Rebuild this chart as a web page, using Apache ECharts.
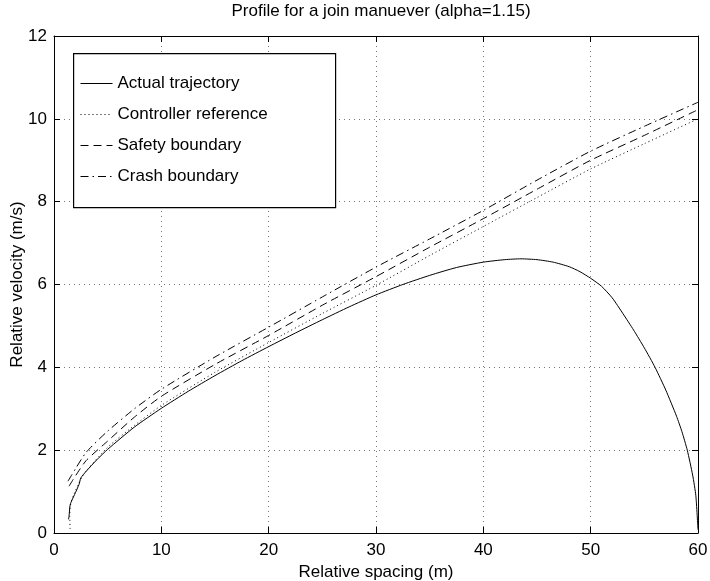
<!DOCTYPE html>
<html>
<head>
<meta charset="utf-8">
<script src="https://cdn.jsdelivr.net/npm/echarts@6/dist/echarts.min.js"></script>
<style>html,body{margin:0;padding:0;background:#fff}#c{width:710px;height:581px}</style>
</head>
<body>
<div id="c"></div>
<script>
// ---- data ----
const xTicks = [0, 10, 20, 30, 40, 50, 60];
const yTicks = [0, 2, 4, 6, 8, 10, 12];

const trajX = [1.35, 1.4, 1.49, 1.6, 1.92, 2.33, 2.5, 3, 4, 5, 7.5, 10, 12.5, 15, 17.5, 20, 22.5, 25, 27.5, 30, 32.5, 35, 37.5, 40, 42, 43.5, 45, 46.5, 48, 49, 50, 51, 52, 53, 54, 55, 56, 57, 58, 58.5, 59, 59.5, 59.8, 60];
const trajY = [0.33, 0.4, 0.66, 0.75, 0.93, 1.17, 1.33, 1.49, 1.77, 2.02, 2.56, 3.01, 3.42, 3.8, 4.16, 4.5, 4.83, 5.15, 5.46, 5.75, 6.0, 6.22, 6.41, 6.54, 6.6, 6.62, 6.6, 6.54, 6.43, 6.31, 6.15, 5.96, 5.68, 5.3, 4.9, 4.47, 4.0, 3.45, 2.82, 2.45, 2.0, 1.4, 0.9, 0.08];

const refX = [1.5, 1.47, 1.5, 1.65, 2.0, 2.5, 3, 5, 7.5, 10, 15, 20, 25, 30, 35, 40, 45, 50, 55, 60];
const refY = [0.1, 0.4, 0.62, 0.8, 1.02, 1.3, 1.5, 2.07, 2.6, 3.08, 3.88, 4.6, 5.3, 5.98, 6.7, 7.4, 8.1, 8.79, 9.4, 10.0];

const safeX = [1.4, 2, 3, 5, 7.5, 10, 15, 20, 25, 30, 35, 40, 45, 50, 55, 60];
const safeY = [1.13, 1.38, 1.75, 2.22, 2.8, 3.3, 4.07, 4.77, 5.5, 6.19, 6.9, 7.59, 8.3, 9.0, 9.6, 10.22];

const crashX = [1.3, 2, 3, 5, 7.5, 10, 15, 20, 25, 30, 35, 40, 45, 50, 55, 60];
const crashY = [1.25, 1.55, 1.95, 2.46, 3.0, 3.47, 4.25, 4.97, 5.7, 6.42, 7.1, 7.79, 8.52, 9.22, 9.82, 10.4];

const seriesNames = ['Actual trajectory', 'Controller reference', 'Safety boundary', 'Crash boundary'];

const zip = (xs, ys) => xs.map((x, i) => [x, ys[i]]);
const FONT = 'Liberation Sans, Arial, Helvetica, sans-serif';

const chart = echarts.init(document.getElementById('c'), null, {renderer: 'canvas'});

const baseX = {
  type: 'value', min: xTicks[0], max: xTicks[xTicks.length - 1], interval: 10,
  axisLine: {show: true, onZero: false, lineStyle: {color: '#000', width: 1}},
  axisTick: {show: true, inside: true, length: 6, lineStyle: {color: '#000'}},
};
const baseY = {
  type: 'value', min: yTicks[0], max: yTicks[yTicks.length - 1], interval: 2,
  axisLine: {show: true, onZero: false, lineStyle: {color: '#000', width: 1}},
  axisTick: {show: true, inside: true, length: 6, lineStyle: {color: '#000'}},
};

const mkLine = (name, xs, ys, type) => ({
  name, type: 'line', data: zip(xs, ys), showSymbol: false, symbol: 'none',
  smooth: 0.2, xAxisIndex: 0, yAxisIndex: 0,
  lineStyle: {color: '#000', width: 1, type: type},
  itemStyle: {color: '#000'},
  animation: false, z: 2
});

chart.setOption({
  animation: false,
  backgroundColor: '#fff',
  title: {
    text: 'Profile for a join manuever (alpha=1.15)',
    left: 381, textAlign: 'center', top: 3, padding: 0,
    textStyle: {fontFamily: FONT, fontSize: 17, fontWeight: 'normal', color: '#000'}
  },
  grid: {left: 54, right: 12, top: 36, bottom: 48, containLabel: false, outerBoundsMode: 'none'},
  xAxis: [
    Object.assign({}, baseX, {
      position: 'bottom',
      name: 'Relative spacing (m)', nameLocation: 'middle', nameGap: 29,
      nameTextStyle: {fontFamily: FONT, fontSize: 17, color: '#000'},
      axisLabel: {show: true, margin: 9, fontFamily: FONT, fontSize: 17, color: '#000'},
      splitLine: {show: true, lineStyle: {color: '#777', width: 1, type: [1, 4]}}
    }),
    Object.assign({}, baseX, {
      position: 'top', axisLabel: {show: false}, splitLine: {show: false}
    })
  ],
  yAxis: [
    Object.assign({}, baseY, {
      position: 'left',
      name: 'Relative velocity (m/s)', nameLocation: 'middle', nameGap: 28,
      nameMoveOverlap: false,
      nameTextStyle: {fontFamily: FONT, fontSize: 17, color: '#000'},
      axisLabel: {show: true, margin: 7, fontFamily: FONT, fontSize: 17, color: '#000'},
      splitLine: {show: true, lineStyle: {color: '#777', width: 1, type: [1, 4]}}
    }),
    Object.assign({}, baseY, {
      position: 'right', axisLabel: {show: false}, splitLine: {show: false}
    })
  ],
  legend: {
    orient: 'vertical', left: 80, top: 75, padding: 0,
    itemWidth: 32, itemHeight: 14, itemGap: 14,
    itemStyle: {opacity: 0, borderWidth: 0},
    lineStyle: {width: 1},
    data: seriesNames,
    textStyle: {fontFamily: FONT, fontSize: 17, color: '#000'},
    selectedMode: false, z: 10
  },
  graphic: [{
    type: 'rect', left: 73, top: 53, z: 5,
    shape: {width: 262, height: 154},
    style: {fill: '#fff', stroke: '#000', lineWidth: 1.2}
  }],
  series: [
    mkLine(seriesNames[0], trajX, trajY, 'solid'),
    mkLine(seriesNames[1], refX, refY, [1, 3]),
    mkLine(seriesNames[2], safeX, safeY, [8, 5]),
    mkLine(seriesNames[3], crashX, crashY, [8, 4, 1.5, 4])
  ]
});
</script>
</body>
</html>
